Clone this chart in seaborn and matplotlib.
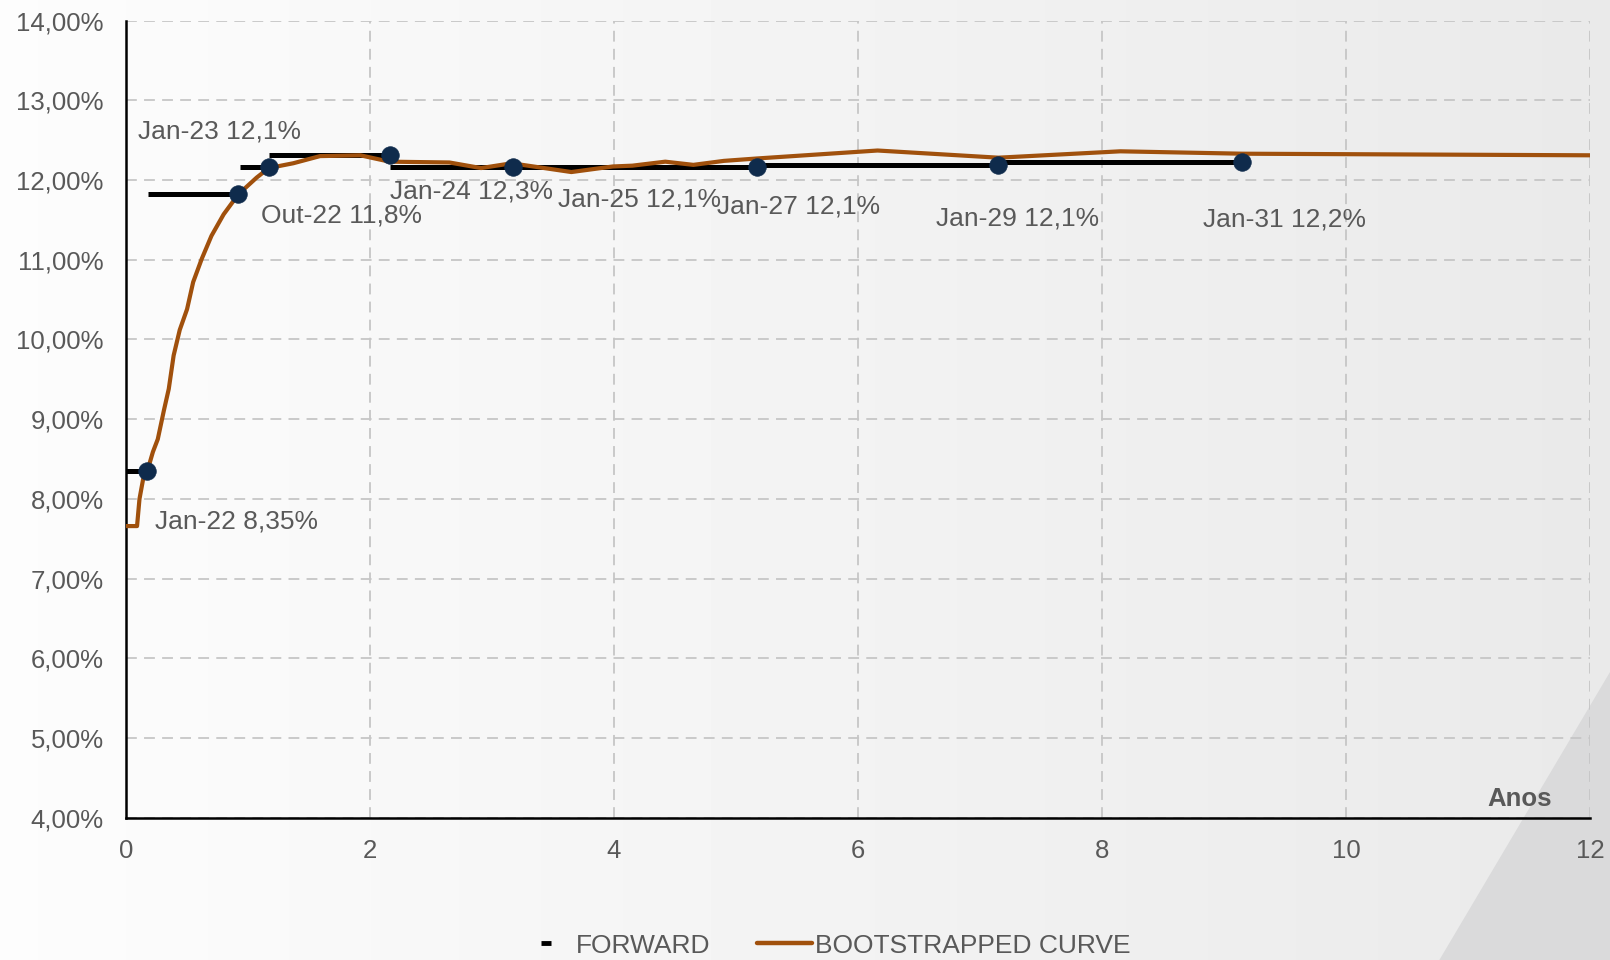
import matplotlib.pyplot as plt
import numpy as np
import pandas as pd
import seaborn as sns
from matplotlib.lines import Line2D
from matplotlib.patches import Polygon
from matplotlib.ticker import FuncFormatter, MultipleLocator

sns.set_style('white')
plt.rcParams['font.family'] = ['Liberation Sans', 'DejaVu Sans']

# bootstrapped curve (years, % a.a.)
curve_years = [0.00, 0.09, 0.11, 0.14, 0.18, 0.22, 0.26, 0.31, 0.35, 0.39,
               0.44, 0.50, 0.55, 0.62, 0.70, 0.80, 0.92, 1.07, 1.17, 1.37,
               1.59, 1.92, 2.16, 2.65, 2.91, 3.16, 3.65, 3.99, 4.15, 4.42,
               4.65, 4.90, 5.17, 6.16, 7.15, 8.15, 9.15, 12.00]
curve_rate = [7.66, 7.66, 8.00, 8.25, 8.38, 8.59, 8.75, 9.11, 9.38, 9.80,
              10.12, 10.38, 10.72, 11.01, 11.30, 11.57, 11.82, 12.03, 12.15, 12.21,
              12.30, 12.31, 12.23, 12.22, 12.15, 12.21, 12.10, 12.17, 12.18, 12.23,
              12.19, 12.24, 12.27, 12.37, 12.28, 12.36, 12.33, 12.31]

# forward segments
fwd_start = [0.00, 0.18, 0.93, 1.17, 2.16, 3.17, 5.17, 7.15]
fwd_end = [0.17, 0.92, 1.17, 2.16, 3.17, 5.17, 7.15, 9.15]
fwd_rate = [8.35, 11.83, 12.16, 12.31, 12.16, 12.16, 12.19, 12.22]
fwd_labels = ['Jan-22 8,35%', 'Out-22 11,8%', 'Jan-23 12,1%', 'Jan-24 12,3%',
              'Jan-25 12,1%', 'Jan-27 12,1%', 'Jan-29 12,1%', 'Jan-31 12,2%']
# label offsets from the dots, in pixels (right, down)
label_offsets = [(8, 50), (23, 22), (-131, -36), (0, 36),
                 (45, 32), (-40, 39), (-62, 54), (-39, 57)]

grey = '#595959'
orange = '#a0500c'
navy = '#0f2b4c'

fig = plt.figure(figsize=(16.1, 9.6), dpi=100)

# background gradient + corner shape
bg = fig.add_axes([0, 0, 1, 1], zorder=-10)
grad = np.linspace(0.99, 0.915, 256)[None, :]
bg.imshow(grad, cmap='gray', vmin=0, vmax=1, aspect='auto', extent=[0, 1, 0, 1])
bg.add_patch(Polygon([[1.0, 0.30], [0.894, 0.0], [1.0, 0.0]], closed=True,
                     facecolor='#dadadb', edgecolor='none'))
bg.set_xlim(0, 1)
bg.set_ylim(0, 1)
bg.axis('off')

ax = fig.add_axes([0.0783, 0.148, 0.9093, 0.8306])
ax.set_facecolor('none')

ax.hlines(fwd_rate, fwd_start, fwd_end, color='black', lw=3.6, zorder=3)

df = pd.DataFrame({'years': curve_years, 'rate': curve_rate})
sns.lineplot(data=df, x='years', y='rate', color=orange, lw=3.0, sort=False,
             ax=ax, zorder=4)

sns.scatterplot(x=fwd_end, y=fwd_rate, s=160, color=navy, edgecolor=navy,
                linewidth=0.5, zorder=5, ax=ax)

for x, y, txt, off in zip(fwd_end, fwd_rate, fwd_labels, label_offsets):
    ax.annotate(txt, (x, y), xytext=(off[0], -off[1]), textcoords='offset pixels',
                ha='left', va='center', fontsize=19, color=grey, zorder=6)

ax.set_xlim(0, 12)
ax.set_ylim(4, 14)
ax.xaxis.set_major_locator(MultipleLocator(2))
ax.yaxis.set_major_locator(MultipleLocator(1))
ax.yaxis.set_major_formatter(FuncFormatter(lambda v, p: '{:.2f}%'.format(v).replace('.', ',')))
ax.set_xlabel('')
ax.set_ylabel('')

ax.grid(True, color='#c6c6c6', linestyle=(0, (6, 4)), lw=1.3)
for s in ['top', 'right']:
    ax.spines[s].set_visible(False)
for s in ['left', 'bottom']:
    ax.spines[s].set_color('black')
    ax.spines[s].set_linewidth(1.8)
ax.tick_params(axis='both', direction='out', length=6, width=1.5, color='black',
               labelsize=18.5, labelcolor=grey)
ax.tick_params(axis='y', pad=10)
ax.tick_params(axis='x', pad=9)

ax.text(0.974, 0.024, 'Anos', transform=ax.transAxes, ha='right', va='center',
        fontsize=18.5, fontweight='bold', color=grey)

handles = [Line2D([], [], color='black', marker='_', ls='none', markersize=7, mew=3.5),
           Line2D([], [], color=orange, lw=3.2)]
fig.legend(handles, ['FORWARD', 'BOOTSTRAPPED CURVE'], loc='center',
           bbox_to_anchor=(0.512, 0.015), ncol=2, frameon=False, fontsize=19,
           handlelength=2.08, handletextpad=0.1, columnspacing=1.78,
           labelcolor=grey)

plt.savefig('out.png', dpi=100)
